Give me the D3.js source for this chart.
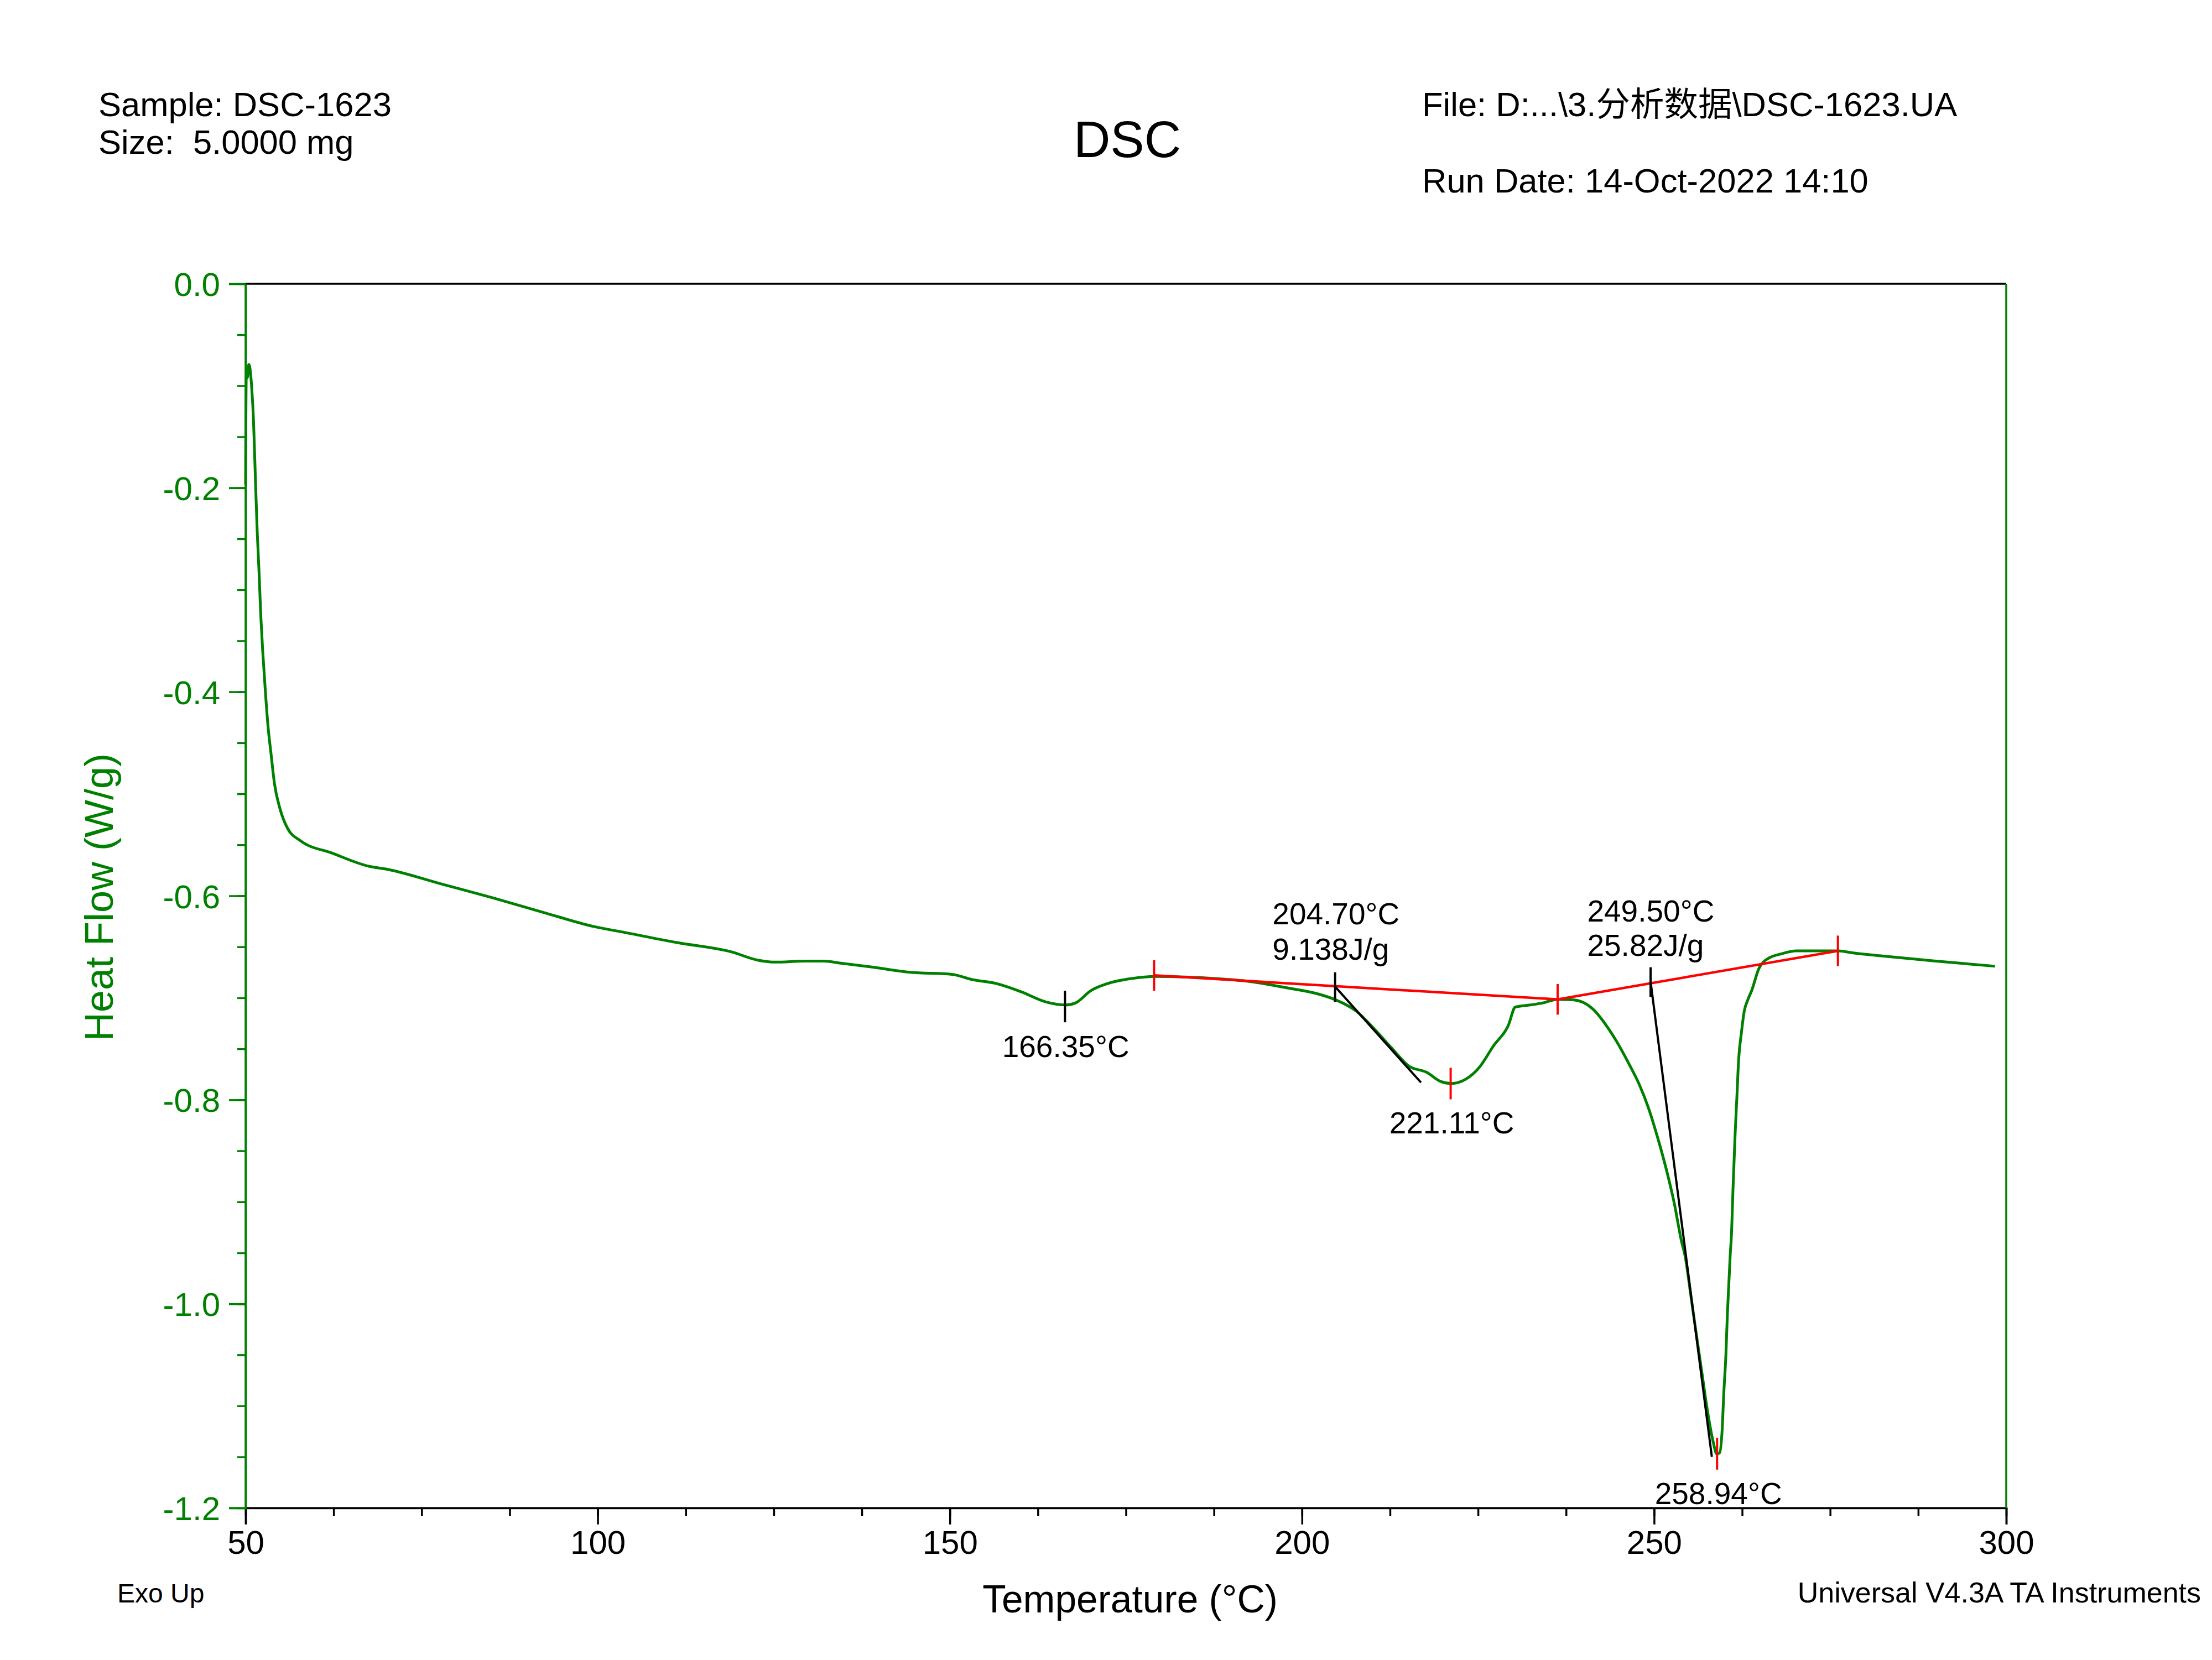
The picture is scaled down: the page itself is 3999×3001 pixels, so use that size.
<!DOCTYPE html>
<html>
<head>
<meta charset="utf-8">
<script src="https://cdn.jsdelivr.net/npm/d3@7"></script>
<style>
  html, body { margin: 0; padding: 0; background: #fff; }
  svg { display: block; }
  text { font-family: "Liberation Sans", Arial, "Noto Sans CJK SC", sans-serif; }
</style>
</head>
<body>
<svg id="chart" width="3999" height="3001"></svg>
<script>
// ---------------- Data ----------------
const temperature = [50.0, 50.1, 50.25, 50.45, 50.6, 50.86, 51.13, 51.4, 51.65, 51.9, 52.17, 52.43, 52.83, 53.2, 53.6, 54.1, 54.9, 55.97, 57.8, 62.25, 67.5, 70.1, 77.6, 85.1, 92.65, 99.4, 103.9, 111.4, 119.0, 122.7, 125.3, 129.3, 132.1, 134.5, 139.1, 144.4, 150.3, 153.1, 156.6, 160.1, 163.65, 166.45, 167.85, 170.0, 172.4, 175.9, 179.1, 187.6, 192.6, 197.7, 202.7, 204.8, 207.7, 210.2, 212.7, 215.2, 217.7, 219.7, 221.2, 223.2, 225.2, 227.2, 229.3, 230.3, 232.4, 234.2, 236.3, 238.5, 241.3, 243.2, 244.7, 246.6, 247.9, 249.2, 250.5, 251.8, 252.85, 253.9, 254.4, 255.2, 256.0, 256.8, 257.6, 258.35, 258.9, 259.3, 259.65, 259.9, 260.2, 260.4, 260.6, 260.8, 261.0, 261.2, 261.5, 261.75, 262.0, 262.4, 262.8, 263.3, 263.85, 264.9, 265.5, 266.3, 268.0, 270.2, 276.1, 278.3, 282.4, 290.0, 298.4];
const heatFlow = [-0.197, -0.090, -0.092, -0.079, -0.082, -0.101, -0.135, -0.193, -0.243, -0.281, -0.327, -0.360, -0.402, -0.435, -0.460, -0.490, -0.515, -0.534, -0.546, -0.558, -0.571, -0.574, -0.588, -0.602, -0.617, -0.630, -0.636, -0.646, -0.655, -0.663, -0.665, -0.664, -0.664, -0.666, -0.670, -0.675, -0.677, -0.682, -0.686, -0.694, -0.704, -0.707, -0.705, -0.693, -0.686, -0.681, -0.679, -0.681, -0.684, -0.690, -0.697, -0.702, -0.713, -0.730, -0.749, -0.767, -0.773, -0.782, -0.784, -0.780, -0.768, -0.747, -0.727, -0.709, -0.707, -0.705, -0.7015, -0.702, -0.711, -0.727, -0.743, -0.767, -0.785, -0.808, -0.837, -0.870, -0.901, -0.939, -0.953, -0.991, -1.030, -1.068, -1.106, -1.134, -1.147, -1.146, -1.125, -1.087, -1.049, -1.011, -0.982, -0.953, -0.930, -0.888, -0.834, -0.798, -0.761, -0.734, -0.713, -0.702, -0.693, -0.671, -0.665, -0.661, -0.657, -0.654, -0.654, -0.656, -0.659, -0.664, -0.669];

const xMajorTicks = [50, 100, 150, 200, 250, 300];
const xTickLabels = ["50", "100", "150", "200", "250", "300"];
const yMajorTicks = [0.0, -0.2, -0.4, -0.6, -0.8, -1.0, -1.2];
const yTickLabels = ["0.0", "-0.2", "-0.4", "-0.6", "-0.8", "-1.0", "-1.2"];

// integration baseline (red) points
const baselineT = [179.0, 236.3, 276.1];
const baselineV = [-0.678, -0.7015, -0.654];
// peak markers
const peakT = [166.35, 221.11, 258.94];
const peakV = [-0.7085, -0.784, -1.147];
const peakColor = ["black", "red", "red"];
// onset tangent lines
const onsetT = [204.70, 249.50];
const onsetV = [-0.689, -0.684];
const tangentEndT = [216.9, 258.2];
const tangentEndV = [-0.783, -1.150];

// annotation texts with data anchor (T, value) of their baseline
const annText = ["166.35°C", "204.70°C", "9.138J/g", "221.11°C", "249.50°C", "25.82J/g", "258.94°C"];
const annT = [166.45, 195.8, 195.8, 212.4, 240.5, 240.5, 250.1];
const annV = [-0.758, -0.628, -0.6625, -0.833, -0.625, -0.659, -1.196];
const annAnchor = ["middle", "start", "start", "start", "start", "start", "start"];

// ---------------- Drawing ----------------
const GREEN = "#008000", RED = "#ff0000";
const svg = d3.select("#chart");
svg.append("rect").attr("width", 3999).attr("height", 3001).attr("fill", "#fff");

const L = 444, R = 3627, T0 = 513, B = 2726;
const x = d3.scaleLinear().domain([50, 300]).range([L, R]);
const y = d3.scaleLinear().domain([0, -1.2]).range([T0, B]);

// Header texts
const hdr = svg.append("g").attr("font-size", 61.5).attr("fill", "#000");
hdr.append("text").attr("x", 178).attr("y", 210).text("Sample: DSC-1623");
hdr.append("text").attr("x", 178).attr("y", 278).attr("xml:space", "preserve").text("Size:  5.0000 mg");
hdr.append("text").attr("x", 2571).attr("y", 210).text("File: D:...\\3.分析数据\\DSC-1623.UA");
hdr.append("text").attr("x", 2571).attr("y", 348).text("Run Date: 14-Oct-2022 14:10");
svg.append("text").attr("x", 2038).attr("y", 284).attr("text-anchor", "middle")
  .attr("font-size", 92).text("DSC");

// X axis (bottom, black)
const xAxisMinor = d3.axisBottom(x).tickValues(d3.range(50, 300.01, 12.5)).tickSize(15).tickFormat("");
const gxm = svg.append("g").attr("transform", `translate(0,${B})`).call(xAxisMinor);
gxm.select(".domain").remove();
gxm.selectAll("line").attr("stroke", "#000").attr("stroke-width", 3.5);

const xAxisMajor = d3.axisBottom(x).tickValues(xMajorTicks).tickSize(30).tickPadding(10)
  .tickFormat((d, i) => xTickLabels[i]);
const gx = svg.append("g").attr("transform", `translate(0,${B})`).call(xAxisMajor);
gx.select(".domain").attr("stroke", "#000").attr("stroke-width", 3.5);
gx.selectAll("line").attr("stroke", "#000").attr("stroke-width", 3.5);
gx.selectAll("text").attr("font-size", 60).attr("fill", "#000")
  .attr("font-family", "Liberation Sans, Arial, sans-serif").attr("dy", "0.71em");

// Y axis (left, green)
const yAxisMinor = d3.axisLeft(y).tickValues(d3.range(0, 25, 1).map(i => -i * 0.05)).tickSize(15).tickFormat("");
const gym = svg.append("g").attr("transform", `translate(${L},0)`).call(yAxisMinor);
gym.select(".domain").remove();
gym.selectAll("line").attr("stroke", GREEN).attr("stroke-width", 3.5);

const yAxisMajor = d3.axisLeft(y).tickValues(yMajorTicks).tickSize(30).tickPadding(16)
  .tickFormat((d, i) => yTickLabels[i]);
const gy = svg.append("g").attr("transform", `translate(${L},0)`).call(yAxisMajor);
gy.select(".domain").attr("stroke", GREEN).attr("stroke-width", 3.5);
gy.selectAll("line").attr("stroke", GREEN).attr("stroke-width", 3.5);
gy.selectAll("text").attr("font-size", 60).attr("fill", GREEN)
  .attr("font-family", "Liberation Sans, Arial, sans-serif").attr("dy", "0.36em");

// top (black) and right (green) frame lines
svg.append("line").attr("x1", L).attr("x2", R).attr("y1", T0).attr("y2", T0)
  .attr("stroke", "#000").attr("stroke-width", 3.5);
svg.append("line").attr("x1", R).attr("x2", R).attr("y1", T0).attr("y2", B)
  .attr("stroke", GREEN).attr("stroke-width", 3.5);
svg.append("line").attr("x1", L).attr("x2", L).attr("y1", T0).attr("y2", B)
  .attr("stroke", GREEN).attr("stroke-width", 3.5);

// Axis titles
svg.append("text").attr("transform", `translate(204,1622) rotate(-90)`)
  .attr("text-anchor", "middle").attr("font-size", 72).attr("fill", GREEN).text("Heat Flow (W/g)");
svg.append("text").attr("x", 2043).attr("y", 2915).attr("text-anchor", "middle")
  .attr("font-size", 69.5).attr("fill", "#000").text("Temperature (°C)");
svg.append("text").attr("x", 212).attr("y", 2897).attr("font-size", 48).attr("fill", "#000").text("Exo Up");
svg.append("text").attr("x", 3979).attr("y", 2897).attr("text-anchor", "end")
  .attr("font-size", 52).attr("fill", "#000").text("Universal V4.3A TA Instruments");

// Data curve
const pts = temperature.map((t, i) => [t, heatFlow[i]]);
const line = d3.line().x(d => x(d[0])).y(d => y(d[1])).curve(d3.curveMonotoneX);
svg.append("path").datum(pts).attr("d", line).attr("fill", "none")
  .attr("stroke", GREEN).attr("stroke-width", 5).attr("stroke-linejoin", "round");

// Red integration baseline
const bl = baselineT.map((t, i) => [t, baselineV[i]]);
svg.append("path").datum(bl).attr("d", d3.line().x(d => x(d[0])).y(d => y(d[1])))
  .attr("fill", "none").attr("stroke", RED).attr("stroke-width", 4.5);
svg.selectAll(".blmark").data(bl).enter().append("line")
  .attr("x1", d => x(d[0])).attr("x2", d => x(d[0]))
  .attr("y1", d => y(d[1] + 0.015)).attr("y2", d => y(d[1] - 0.015))
  .attr("stroke", RED).attr("stroke-width", 4);

// Peak marks
svg.selectAll(".pk").data(peakT).enter().append("line")
  .attr("x1", d => x(d)).attr("x2", d => x(d))
  .attr("y1", (d, i) => y(peakV[i] + 0.0155)).attr("y2", (d, i) => y(peakV[i] - 0.0155))
  .attr("stroke", (d, i) => peakColor[i]).attr("stroke-width", 4);

// Onset marks and tangents
onsetT.forEach((t, i) => {
  svg.append("line").attr("x1", x(t)).attr("x2", x(t))
    .attr("y1", y(onsetV[i] + 0.014)).attr("y2", y(onsetV[i] - 0.015))
    .attr("stroke", "#000").attr("stroke-width", 4);
  svg.append("line").attr("x1", x(t)).attr("y1", y(onsetV[i]))
    .attr("x2", x(tangentEndT[i])).attr("y2", y(tangentEndV[i]))
    .attr("stroke", "#000").attr("stroke-width", 4);
});

// Annotation texts
svg.selectAll(".ann").data(annText).enter().append("text")
  .attr("x", (d, i) => x(annT[i])).attr("y", (d, i) => y(annV[i]))
  .attr("text-anchor", (d, i) => annAnchor[i])
  .attr("font-size", 55).attr("fill", "#000").text(d => d);
</script>
</body>
</html>
